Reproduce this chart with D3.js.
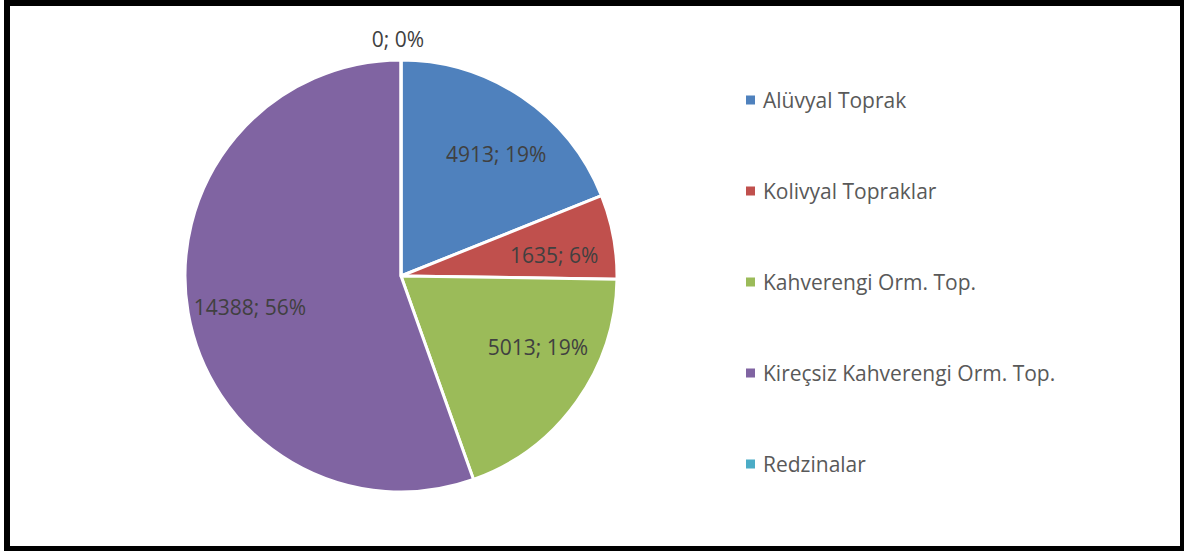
<!DOCTYPE html>
<html>
<head>
<meta charset="utf-8">
<script src="https://cdn.jsdelivr.net/npm/d3@7"></script>
<style>
  body { margin: 0; background: #fff; }
  svg { display: block; font-family: "Open Sans", "Noto Sans", sans-serif; }
</style>
</head>
<body>
<script>
// soil types and their area values
const categories = ["Alüvyal Toprak", "Kolivyal Topraklar", "Kahverengi Orm. Top.", "Kireçsiz Kahverengi Orm. Top.", "Redzinalar"];
const values = [4913, 1635, 5013, 14388, 0];
const percents = ["19%", "6%", "19%", "56%", "0%"];
const colors = ["#4F81BD", "#C0504D", "#9BBB59", "#8064A2", "#4BACC6"];

const w = 1184;
const h = 551;
const cx = 401, cy = 276, radius = 216;

// small angle tweaks (degrees) so the labels sit like excel's "best fit"
const labelShift = [4, 3, -8, -2, 0];

const svg = d3.select("body")
  .append("svg")
  .attr("width", w)
  .attr("height", h);

svg.append("rect")
  .attr("x", 7)
  .attr("y", 3)
  .attr("width", 1176)
  .attr("height", 546)
  .attr("fill", "#fff")
  .attr("stroke", "#000")
  .attr("stroke-width", 6);

const pie = d3.pie()
  .sort(null)
  .value(d => d.value);

const data = categories.map((c, i) => ({ name: c, value: values[i], pct: percents[i], i: i }));
const arcs = pie(data);

const arc = d3.arc().innerRadius(0).outerRadius(radius);

const g = svg.append("g")
  .attr("transform", "translate(" + cx + "," + cy + ")");

g.selectAll("path")
  .data(arcs)
  .enter()
  .append("path")
  .attr("d", arc)
  .attr("fill", d => colors[d.data.i])
  .attr("stroke", "#fff")
  .attr("stroke-width", 3)
  .attr("stroke-linejoin", "round");

// labels
g.selectAll("text.lbl")
  .data(arcs)
  .enter()
  .append("text")
  .attr("class", "lbl")
  .attr("transform", d => {
    const mid = (d.startAngle + d.endAngle) / 2 + labelShift[d.data.i] * Math.PI / 180;
    const r = d.value === 0 ? radius + 21 : radius * 0.715;
    return "translate(" + (Math.sin(mid) * r - (d.value === 0 ? 3 : 0)) + "," + (-Math.cos(mid) * r) + ")";
  })
  .attr("text-anchor", "middle")
  .attr("dy", "0.36em")
  .attr("font-size", 21)
  .attr("fill", "#404040")
  .text(d => d.data.value + "; " + d.data.pct);

// legend
const legendY = d3.scalePoint()
  .domain(categories)
  .range([100, 464]);

const legend = svg.append("g");

legend.selectAll("rect")
  .data(categories)
  .enter()
  .append("rect")
  .attr("x", 746)
  .attr("y", d => legendY(d) - 4.5)
  .attr("width", 9)
  .attr("height", 9)
  .attr("fill", (d, i) => colors[i]);

legend.selectAll("text")
  .data(categories)
  .enter()
  .append("text")
  .attr("x", 763)
  .attr("y", d => legendY(d))
  .attr("dy", "0.36em")
  .attr("font-size", 21)
  .attr("fill", "#595959")
  .text(d => d);
</script>
</body>
</html>
